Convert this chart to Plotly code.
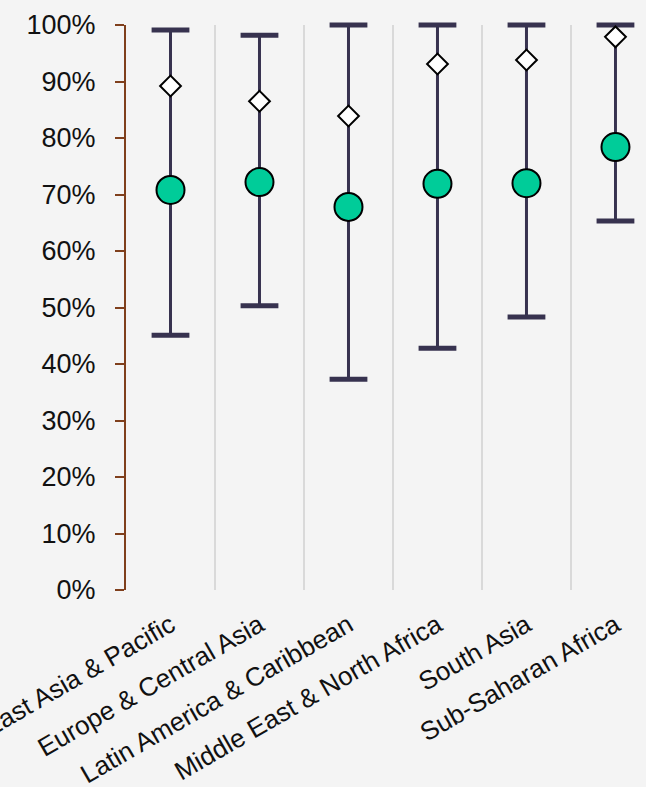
import plotly.graph_objects as go

categories = ["East Asia & Pacific", "Europe & Central Asia", "Latin America & Caribbean",
              "Middle East & North Africa", "South Asia", "Sub-Saharan Africa"]
mean_vals = [0.708, 0.722, 0.678, 0.719, 0.720, 0.784]
diamond_vals = [0.892, 0.865, 0.839, 0.931, 0.938, 0.979]
max_vals = [0.991, 0.982, 1.0, 1.0, 1.0, 1.0]
min_vals = [0.451, 0.503, 0.373, 0.428, 0.483, 0.653]
y_ticks = [0, 0.1, 0.2, 0.3, 0.4, 0.5, 0.6, 0.7, 0.8, 0.9, 1.0]

xs = list(range(len(categories)))
DARK = "#37324f"
GREEN = "#00cc99"
BG = "#f4f4f4"
AXIS = "#7f3f1c"

fig = go.Figure()

# stems (error bars from min to max)
fig.add_trace(go.Scatter(
    x=xs, y=mean_vals, mode="markers",
    marker=dict(size=1, opacity=0),
    error_y=dict(type="data", symmetric=False,
                 array=[mx - m for mx, m in zip(max_vals, mean_vals)],
                 arrayminus=[m - mn for m, mn in zip(mean_vals, min_vals)],
                 color=DARK, thickness=3, width=0),
    hoverinfo="skip", showlegend=False, cliponaxis=False))

# caps
for vals in (max_vals, min_vals):
    fig.add_trace(go.Scatter(
        x=xs, y=vals, mode="markers",
        marker=dict(symbol="line-ew", size=27, line=dict(color=DARK, width=5)),
        showlegend=False, cliponaxis=False))

# diamonds
fig.add_trace(go.Scatter(
    x=xs, y=diamond_vals, mode="markers",
    marker=dict(symbol="diamond", size=16, color="white", line=dict(color="black", width=2)),
    showlegend=False, cliponaxis=False))

# circles
fig.add_trace(go.Scatter(
    x=xs, y=mean_vals, mode="markers",
    marker=dict(symbol="circle", size=28, color=GREEN, line=dict(color="black", width=2)),
    showlegend=False, cliponaxis=False))

fig.update_layout(
    width=646, height=787,
    margin=dict(l=126, r=0, t=25, b=197),
    paper_bgcolor=BG, plot_bgcolor=BG,
    font=dict(family="Liberation Sans, Arial", color="#111111"),
    xaxis=dict(
        range=[-0.5, 5.343], tickmode="array", tickvals=xs, ticktext=categories,
        tickangle=-30, tickfont=dict(size=26), showgrid=False, zeroline=False,
        showline=False, ticks="", ticklabelstandoff=14, ticklabeloverflow="allow",
        automargin=False,
        minor=dict(tick0=0.5, dtick=1, showgrid=True, gridcolor="#d9d9d9", gridwidth=2, ticks=""),
    ),
    yaxis=dict(
        range=[0, 1], tickmode="array", tickvals=y_ticks, tickformat=".0%",
        tickfont=dict(size=27), showgrid=False, zeroline=False,
        showline=True, linecolor=AXIS, linewidth=2,
        ticks="outside", ticklen=9, tickwidth=2, tickcolor=AXIS,
        ticklabelstandoff=14, automargin=False,
    ),
)

fig.write_html("out.html")
